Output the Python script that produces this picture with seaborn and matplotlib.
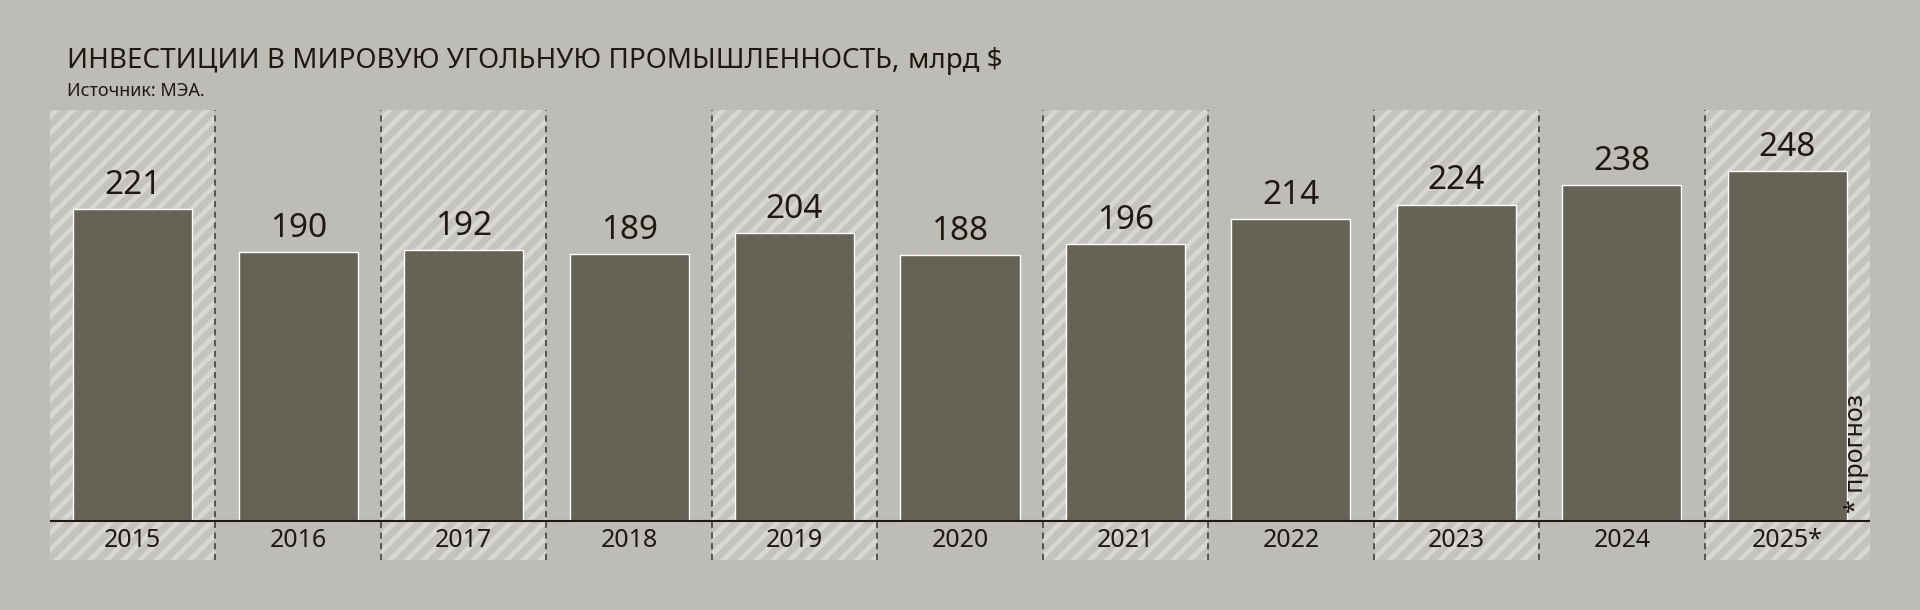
import matplotlib
matplotlib.use("Agg")
import matplotlib.pyplot as plt
import seaborn as sns
import pandas as pd

years = ["2015","2016","2017","2018","2019","2020","2021","2022","2023","2024","2025*"]
values = [221,190,192,189,204,188,196,214,224,238,248]
hatched = [True,False,True,False,True,False,True,False,True,False,True]

sns.set_theme(style="white")
plt.rcParams['font.family'] = ['Noto Sans', 'DejaVu Sans']
plt.rcParams['hatch.linewidth'] = 3.5
plt.rcParams['hatch.color'] = '#d8d7d3'

bg = '#bdbcb7'
dark = '#1e1a12'
fig = plt.figure(figsize=(19.2, 6.1), dpi=100, facecolor=bg)
ax = fig.add_axes([50/1920, 50/610, 1820/1920, 450/610])
ax.set_facecolor(bg)

for i, h in enumerate(hatched):
    if h:
        ax.axvspan(i-0.5, i+0.5, facecolor='#c4c3be', edgecolor='#d8d7d3', hatch='//', lw=0, zorder=0)
for i in range(1, len(years)):
    ax.axvline(i-0.5, color='#3a3529', ls=(0,(4,3)), lw=1.1, zorder=1)

df = pd.DataFrame({"year": years, "value": values})
sns.barplot(data=df, x="year", y="value", color='#656355', saturation=1, width=0.72, ax=ax, zorder=2)
ax.axhline(0, color=dark, lw=1.5, zorder=3)

ax.set_xlim(-0.5, len(years)-0.5)
ax.set_ylim(-28, 291)
for i, (y, v) in enumerate(zip(years, values)):
    ax.text(i, v+5, str(v), ha='center', va='bottom', fontsize=24, fontweight='bold', color=dark)
    ax.text(i, -14, y, ha='center', va='center', fontsize=18, color=dark)
ax.text(len(years)-0.5-0.08, 5, '* прогноз', rotation=90, ha='center', va='bottom', fontsize=18, color=dark)

ax.set_xticks([]); ax.set_yticks([])
ax.set_xlabel(''); ax.set_ylabel('')
for s in ax.spines.values():
    s.set_visible(False)

fig.text(67/1920, 1-61/610, 'ИНВЕСТИЦИИ В МИРОВУЮ УГОЛЬНУЮ ПРОМЫШЛЕННОСТЬ,', fontsize=20, fontweight='bold', color=dark, va='center')
t = fig.texts[-1]
fig.canvas.draw()
bb = t.get_window_extent()
fig.text((bb.x1+8)/1920, 1-61/610, 'млрд $', fontsize=20, color=dark, va='center')
fig.text(67/1920, 1-91/610, 'Источник: МЭА.', fontsize=13, color=dark, va='center')

fig.savefig('out.png', dpi=100, facecolor=bg)
